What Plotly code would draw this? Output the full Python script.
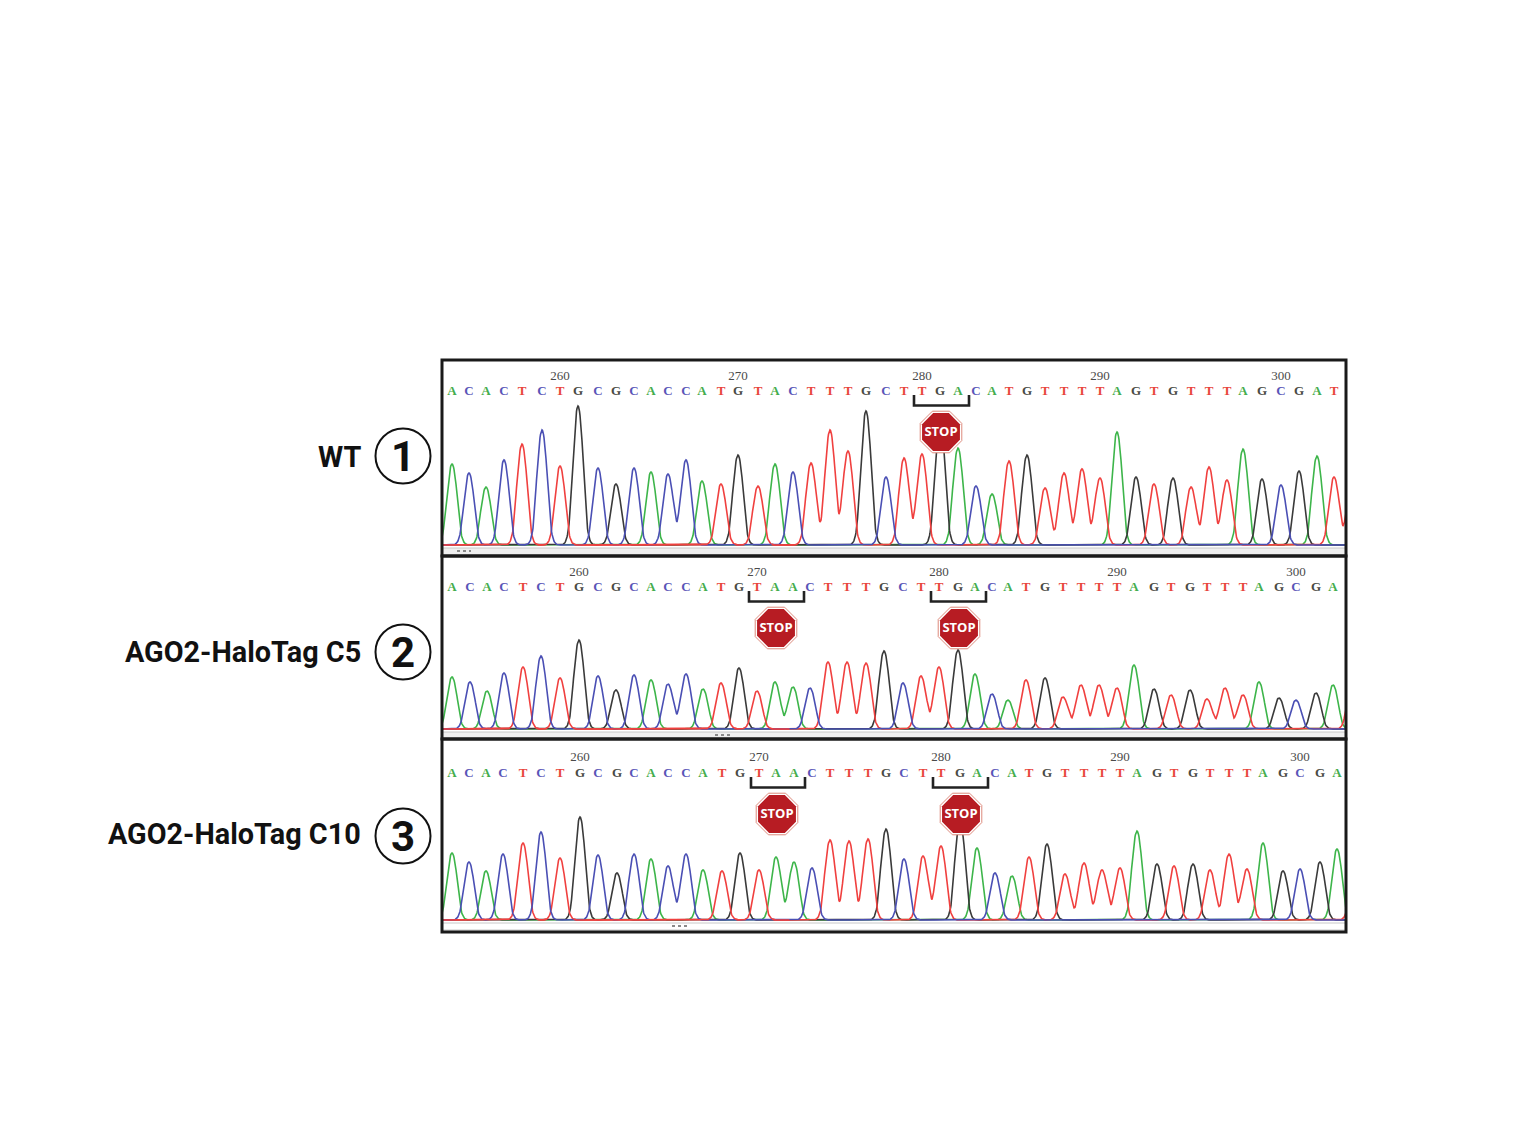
import numpy as np
import plotly.graph_objects as go

# ---------- data ----------
seq_wt = list("ACACTCTGCGCACCATGTACTTTGCTTGACATGTTTTAGTGTTTAGCGATT")
seq_c5 = list("ACACTCTGCGCACCATGTAACTTTGCTTGACATGTTTTAGTGTTTAGCGAT")
seq_c10 = list("ACACTCTGCGCACCATGTAACTTTGCTTGACATGTTTTAGTGTTTAGCGAT")

scan_wt = [452,469,486,504,522,542,560,578,598,616,634,651,668,686,702,721,738,758,775,793,811,830,848,866,886,
           904,922,940,958,976,992,1009,1027,1045,1064,1082,1100,1117,1136,1154,1173,1191,1209,1227,1243,1262,1281,1299,1317,1334,1352]
signal_wt = [81,72,58,85,101,115,79,139,77,61,77,73,71,85,64,61,90,59,81,73,82,115,94,134,68,
             87,91,125,97,59,51,84,90,57,72,76,67,113,68,61,67,58,78,65,96,66,60,74,89,68,60]

scan_c5 = [452,470,487,504,523,541,560,579,598,616,634,651,668,686,703,721,739,757,775,793,810,828,847,866,884,
           903,921,939,958,975,992,1008,1026,1045,1063,1081,1099,1117,1134,1154,1171,1190,1207,1225,1243,1259,1279,1296,1316,1333,1352]
signal_c5 = [52,47,38,56,62,73,51,89,53,39,54,49,45,55,40,46,61,38,47,42,41,67,67,66,78,
             46,53,62,79,55,35,29,49,51,32,44,44,41,64,40,34,39,30,41,34,47,31,29,36,44,40]

scan_c10 = [452,469,486,503,523,541,560,580,598,617,634,651,668,686,703,722,740,759,776,794,812,830,849,868,886,
            904,923,941,960,977,995,1012,1029,1047,1065,1084,1102,1120,1137,1157,1174,1193,1210,1229,1247,1263,1283,1300,1320,1337,1355]
signal_c10 = [67,58,49,66,77,88,62,103,65,47,66,61,54,66,50,49,67,50,63,58,52,80,79,81,91,
              61,64,74,100,72,47,44,63,76,46,57,50,52,89,56,54,56,50,66,51,77,49,51,58,71,50]

stop_starts_wt = [26]
stop_starts_c5 = [17, 27]
stop_starts_c10 = [17, 27]
first_base_number = [254, 253, 253]
numbered_positions = [260, 270, 280, 290, 300]
sample_names = ["WT", "AGO2-HaloTag C5", "AGO2-HaloTag C10"]
sample_numbers = ["1", "2", "3"]

# ---------- styling / layout ----------
W, H = 1523, 1135
BOX_L, BOX_R = 442, 1346
BASE_COLORS = {"A": "#3db54a", "C": "#4a4fb4", "G": "#3a3a3a", "T": "#f0403f"}
LETTER_COLORS = {"A": "#45ad4d", "C": "#5a55b8", "G": "#4a4a44", "T": "#e8453c"}
panels = [
    dict(top=360, bottom=556, base=545, letters=392, nums=376.5, stop=432, bracket=(395, 405.5), thumb=(457, 471),
         seq=seq_wt, scan=scan_wt, sig=signal_wt, stops=stop_starts_wt, red_end=800, band=(548, 555), bandfill="#efefef",
         labely=457, circy=456),
    dict(top=556, bottom=739, base=729, letters=588, nums=572.5, stop=628, bracket=(591, 601.5), thumb=(715, 730),
         seq=seq_c5, scan=scan_c5, sig=signal_c5, stops=stop_starts_c5, red_end=790, band=(732, 738), bandfill="#efefef",
         labely=652, circy=652),
    dict(top=739, bottom=932, base=920, letters=774, nums=757.5, stop=814, bracket=(777, 787.5), thumb=(672, 688),
         seq=seq_c10, scan=scan_c10, sig=signal_c10, stops=stop_starts_c10, red_end=790, band=(923, 930), bandfill="#ffffff",
         labely=834, circy=836),
]
HALF_BASE = 12.0
TAIL_SIGMA = 4.6

fig = go.Figure()
shapes, annotations = [], []
xs = np.arange(BOX_L, BOX_R + 0.25, 0.5)


def px(v):
    return v / W


def py(v):
    return 1 - v / H


def peak(d):
    inside = np.abs(d) < HALF_BASE
    core = np.where(inside, np.cos(np.pi * d / (2 * HALF_BASE)) ** 2, 0.0)
    tail = np.exp(-d**2 / (2 * TAIL_SIGMA**2))
    return np.maximum(core, tail)


for i, p in enumerate(panels):
    n = "" if i == 0 else str(i + 1)
    xa, ya = f"x{n}", f"y{n}"
    base = p["base"]
    to_sig = lambda page_y: base - page_y
    fig.update_layout({
        f"xaxis{n}": dict(domain=[px(BOX_L), px(BOX_R)], range=[BOX_L, BOX_R], visible=False, fixedrange=True, anchor=ya),
        f"yaxis{n}": dict(domain=[py(p["bottom"]), py(p["top"])], range=[to_sig(p["bottom"]), to_sig(p["top"])],
                          visible=False, fixedrange=True, anchor=xa),
    })
    scan = np.array(p["scan"], float)
    sig = np.array(p["sig"], float)
    seq = np.array(p["seq"])
    curves = {}
    for b in ["A", "G", "T", "C"]:
        m = seq == b
        d = xs[:, None] - scan[m][None, :]
        curves[b] = (sig[m] * peak(d)).sum(axis=1)
        fig.add_trace(go.Scatter(x=xs, y=curves[b], mode="lines", name=b, xaxis=xa, yaxis=ya,
                                 line=dict(color=BASE_COLORS[b], width=1.6), showlegend=False, hoverinfo="skip"))
    low = (xs < p["red_end"]) & (curves["T"] < 1.0)
    fig.add_trace(go.Scatter(x=xs, y=np.where(low, curves["T"], np.nan), mode="lines", xaxis=xa, yaxis=ya,
                             line=dict(color=BASE_COLORS["T"], width=1.6), showlegend=False, hoverinfo="skip"))
    # base letters (the last peak runs off the panel and has no letter)
    fig.add_trace(go.Scatter(x=scan[:-1], y=[to_sig(p["letters"])] * (len(scan) - 1), mode="text",
                             text=list(seq[:-1]), xaxis=xa, yaxis=ya, showlegend=False, hoverinfo="skip",
                             textfont=dict(family="Liberation Serif", size=13, weight="bold",
                                           color=[LETTER_COLORS[b] for b in seq[:-1]])))
    # numbered positions
    idx = [v - first_base_number[i] for v in numbered_positions]
    fig.add_trace(go.Scatter(x=scan[idx], y=[to_sig(p["nums"])] * len(idx), mode="text",
                             text=[str(v) for v in numbered_positions], xaxis=xa, yaxis=ya, showlegend=False,
                             hoverinfo="skip", textfont=dict(family="Liberation Serif", size=13, color="#4a4a4a")))
    # stop codons
    mids = [scan[s + 1] + 1 for s in p["stops"]]
    ystop = [to_sig(p["stop"])] * len(mids)
    fig.add_trace(go.Scatter(x=mids, y=ystop, mode="markers", xaxis=xa, yaxis=ya, showlegend=False, hoverinfo="skip",
                             marker=dict(symbol="octagon", size=45, color="#ffffff", line=dict(color="#dd8a7c", width=1))))
    fig.add_trace(go.Scatter(x=mids, y=ystop, mode="markers", xaxis=xa, yaxis=ya, showlegend=False, hoverinfo="skip",
                             marker=dict(symbol="octagon", size=41, color="#b71c23", line=dict(width=0))))
    fig.add_trace(go.Scatter(x=mids, y=[v - 1 for v in ystop], mode="text", text=["STOP"] * len(mids),
                             textposition="middle center", xaxis=xa, yaxis=ya, showlegend=False, hoverinfo="skip",
                             textfont=dict(family="Open Sans", size=13, color="#ffffff", weight="bold")))
    for s in p["stops"]:
        x0, x1 = scan[s] - 8, scan[s + 2] + 11
        y0, y1 = to_sig(p["bracket"][0]), to_sig(p["bracket"][1])
        shapes.append(dict(type="path", xref=xa, yref=ya, path=f"M {x0} {y0} L {x0} {y1} L {x1} {y1} L {x1} {y0}",
                           line=dict(color="#222222", width=2.6)))
    # scroll band and thumb under the baseline
    shapes.append(dict(type="rect", xref=xa, yref=ya, x0=BOX_L, x1=BOX_R, y0=to_sig(p["band"][0]), y1=to_sig(p["band"][1]),
                       fillcolor=p["bandfill"], line=dict(color="#c8c8c8", width=1), layer="below"))
    shapes.append(dict(type="line", xref=xa, yref=ya, x0=p["thumb"][0], x1=p["thumb"][1],
                       y0=to_sig(p["band"][0] + 3), y1=to_sig(p["band"][0] + 3),
                       line=dict(color="#8a8a8a", width=2, dash="dot")))
    # panel frame
    shapes.append(dict(type="rect", xref="paper", yref="paper", x0=px(BOX_L), x1=px(BOX_R),
                       y0=py(p["bottom"]), y1=py(p["top"]), line=dict(color="#1a1a1a", width=3)))
    # sample label and circled number
    annotations.append(dict(text=f"<b>{sample_names[i]}</b>", xref="paper", yref="paper", x=px(363), y=py(p["labely"]),
                            xanchor="right", yanchor="middle", showarrow=False,
                            font=dict(family="Roboto", size=28.8, color="#111111")))
    shapes.append(dict(type="circle", xref="paper", yref="paper", x0=px(375.5), x1=px(430.5),
                       y0=py(p["circy"] + 27.5), y1=py(p["circy"] - 27.5), line=dict(color="#111111", width=2)))
    annotations.append(dict(text=f"<b>{sample_numbers[i]}</b>", xref="paper", yref="paper", x=px(403), y=py(p["circy"]),
                            xanchor="center", yanchor="middle", showarrow=False,
                            font=dict(family="Roboto", size=42, color="#111111")))

fig.update_layout(width=W, height=H, margin=dict(l=0, r=0, t=0, b=0), paper_bgcolor="#ffffff", plot_bgcolor="#ffffff",
                  showlegend=False, shapes=shapes, annotations=annotations)
fig.write_html("out.html", config=dict(displayModeBar=False),
               post_script="document.body.style.margin='0';document.body.style.overflow='hidden';")
